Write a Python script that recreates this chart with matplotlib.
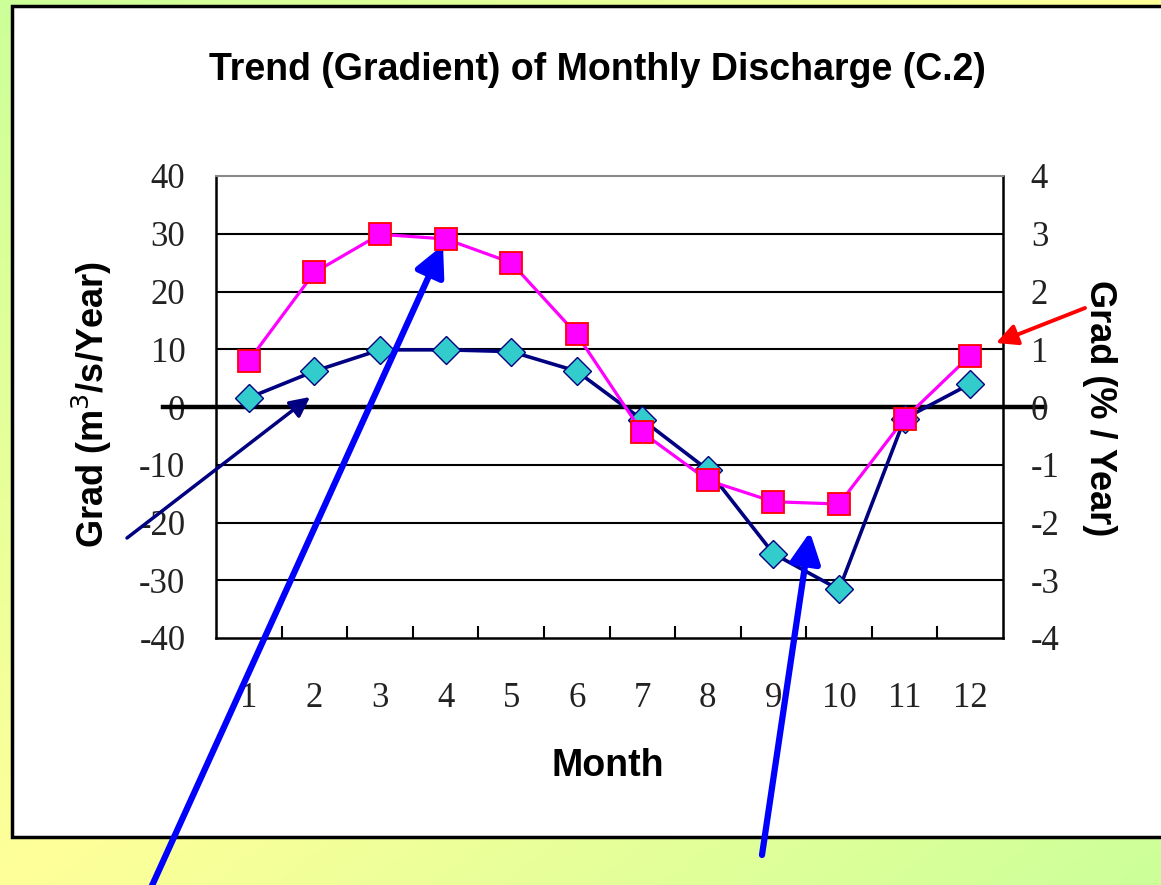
import numpy as np
import matplotlib
matplotlib.use("Agg")
import matplotlib.pyplot as plt
from matplotlib.patches import Rectangle

plt.rcParams["axes.unicode_minus"] = False

# data
months = [1, 2, 3, 4, 5, 6, 7, 8, 9, 10, 11, 12]
grad_abs = [1.6, 6.2, 9.9, 9.9, 9.6, 6.2, -2.2, -10.9, -25.4, -31.6, -2.0, 4.0]   # m3/s/year (left)
grad_pct = [0.80, 2.33, 2.99, 2.91, 2.50, 1.26, -0.44, -1.27, -1.64, -1.68, -0.20, 0.89]  # %/year (right)
left_ticks = [-40, -30, -20, -10, 0, 10, 20, 30, 40]
right_ticks = [-4, -3, -2, -1, 0, 1, 2, 3, 4]

W, H = 1161, 885
fig = plt.figure(figsize=(W / 100, H / 100), dpi=100)

# background gradient (green corners, yellow diagonal)
bg = fig.add_axes([0, 0, 1, 1], zorder=-10)
xx, yy = np.meshgrid(np.linspace(0, 1, 300), np.linspace(0, 1, 300))
t = np.abs((xx + yy) - 1.0)  # 0 on anti-diagonal, 1 at corners
green = np.array([0.80, 1.0, 0.60])
yellow = np.array([1.0, 1.0, 0.60])
img = yellow[None, None, :] * (1 - t[..., None]) + green[None, None, :] * t[..., None]
bg.imshow(img, extent=[0, 1, 0, 1], aspect="auto", origin="upper")
bg.axis("off")

# white chart box
fig.patches.append(Rectangle((12 / W, 1 - 837 / H), 1.2, (837 - 6) / H, transform=fig.transFigure,
                             facecolor="white", edgecolor="black", linewidth=2.5, zorder=-5))

ax = fig.add_axes([216 / W, 1 - 638 / H, (1003 - 216) / W, (638 - 176) / H])
ax.set_facecolor("none")
ax.set_xlim(0.5, 12.5)
ax.set_ylim(-40, 40)
ax.set_yticks(left_ticks)
ax.set_xticks(months)
ax.set_xticks(np.arange(1.5, 12.5, 1), minor=True)
for y in left_ticks[1:-1]:
    ax.axhline(y, color="black", lw=1.5, zorder=1)
ax.axhline(0, xmin=-0.067, xmax=1.053, color="black", lw=3.2, clip_on=False, zorder=2)
for s in ["left", "bottom", "right"]:
    ax.spines[s].set_linewidth(1.8)
ax.spines["top"].set_color("#888888")
ax.spines["top"].set_linewidth(1.5)

ax.tick_params(axis="y", length=0, pad=22, labelsize=25, labelcolor="#222222")
ax.tick_params(axis="x", which="major", length=0, pad=32, labelsize=25, labelcolor="#222222")
ax.tick_params(axis="x", which="minor", direction="in", length=9, width=1.5)
for lab in ax.get_xticklabels() + ax.get_yticklabels():
    lab.set_family("Liberation Serif")

ax.plot(months, grad_abs, color="#000080", lw=2.6, marker="D", ms=14,
        markerfacecolor="#33CCCC", markeredgecolor="#000080", markeredgewidth=1, zorder=3)

ax2 = ax.twinx()
ax2.set_ylim(-4, 4)
ax2.set_yticks(right_ticks)
ax2.tick_params(axis="y", length=0, pad=20, labelsize=25, labelcolor="#222222")
for lab in ax2.get_yticklabels():
    lab.set_family("Liberation Serif")
for s in ax2.spines.values():
    s.set_visible(False)
ax2.plot(months, grad_pct, color="#FF00FF", lw=2.3, marker="s", ms=16.5,
         markerfacecolor="#FF00FF", markeredgecolor="#FF0000", markeredgewidth=1.3, zorder=4)

sans = "Liberation Sans"
fig.text(597 / W, 1 - 70 / H, "Trend (Gradient) of Monthly Discharge (C.2)", ha="center", va="center",
         fontsize=27, fontweight="bold", family=sans)
fig.text(608 / W, 1 - 766 / H, "Month", ha="center", va="center", fontsize=27, fontweight="bold", family=sans)
fig.text(92 / W, 1 - 405 / H, "Grad (m$^3$/s/Year)", ha="center", va="center", rotation=90,
         fontsize=26, fontweight="bold", family=sans)
fig.text(1100 / W, 1 - 408 / H, "Grad (% / Year)", ha="center", va="center", rotation=270,
         fontsize=26, fontweight="bold", family=sans)

# annotation arrows (pixel positions from top-left)
arrows = [
    ((127, 538), (310, 397), "#000080", 2.5, 30),
    ((150, 890), (443, 245), "#0000FF", 4.5, 46),
    ((762, 855), (810, 532), "#0000FF", 4.5, 46),
    ((1085, 308), (996, 343), "#FF0000", 2.8, 32),
]
for (x0, y0), (x1, y1), c, lw, ms in arrows:
    ax2.annotate("", xy=(x1, H - y1), xytext=(x0, H - y0), xycoords="figure pixels",
                 textcoords="figure pixels", annotation_clip=False,
                 arrowprops=dict(arrowstyle="-|>", color=c, lw=lw, mutation_scale=ms,
                                 shrinkA=0, shrinkB=0))

fig.savefig("out.png", dpi=100)
